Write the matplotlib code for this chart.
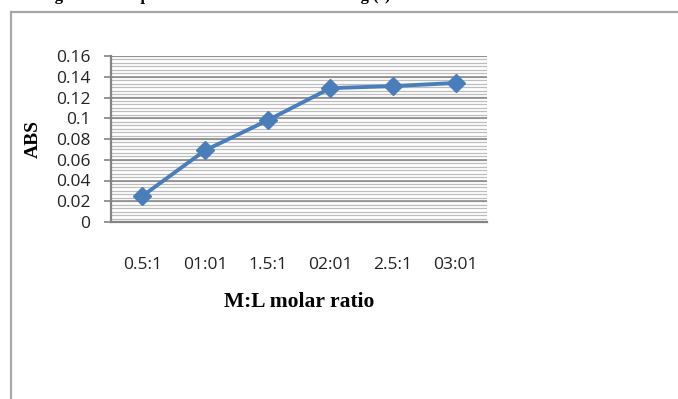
import numpy as np
import matplotlib
matplotlib.use('Agg')
import matplotlib.pyplot as plt
from matplotlib.lines import Line2D

# data
ratios = ['0.5:1', '01:01', '1.5:1', '02:01', '2.5:1', '03:01']
absorbance = [0.025, 0.069, 0.098, 0.129, 0.131, 0.134]
y_ticks = [0, 0.02, 0.04, 0.06, 0.08, 0.1, 0.12, 0.14, 0.16]
y_tick_labels = ['0', '0.02', '0.04', '0.06', '0.08', '0.1', '0.12', '0.14', '0.16']

fig = plt.figure(figsize=(6.78, 3.99), dpi=100)
W, H = 678, 399

# outer frame (only top and left edges are visible)
fig.add_artist(Line2D([10.5 / W, 10.5 / W], [0, 1 - 11.5 / H], transform=fig.transFigure,
                      color='#a6a6a6', lw=1.6))
fig.add_artist(Line2D([10.5 / W, 1], [1 - 11.5 / H, 1 - 11.5 / H], transform=fig.transFigure,
                      color='#a6a6a6', lw=1.6))

# caption cut off at the top of the picture
fig.text(40 / W, 1 - 0.5 / H, 'Figure 2: The plot of molar ratio method of Ag (I)',
         fontsize=12, fontweight='bold', family='Liberation Serif', va='baseline', ha='left')

ax = fig.add_axes([111 / W, 1 - 222 / H, 376 / W, 166 / H])
x = np.arange(len(ratios))

# hatched background: minor and major horizontal lines
minor = np.arange(0, 0.16 + 1e-9, 0.02 / 6)
for v in minor:
    ax.axhline(v, color='#bdbdbd', lw=0.9, zorder=0)
for v in y_ticks:
    ax.axhline(v, color='#848484', lw=1.1, zorder=1)

ax.plot(x, absorbance, color='#4a7ebb', lw=2.8, marker='D', markersize=9,
        markerfacecolor='#4a7ebb', markeredgecolor='#4a7ebb', zorder=3)

ax.set_xlim(-0.5, len(ratios) - 0.5)
ax.set_ylim(0, 0.16)
ax.set_yticks(y_ticks)
ax.set_yticklabels(y_tick_labels)
ax.set_xticks(x)
ax.set_xticklabels(ratios)

for s in ['top', 'right']:
    ax.spines[s].set_visible(False)
for s in ['left', 'bottom']:
    ax.spines[s].set_color('#848484')
    ax.spines[s].set_linewidth(1.6)

ax.tick_params(axis='y', length=5, width=1.2, color='#848484', pad=10, labelsize=12.5)
ax.tick_params(axis='x', length=0, pad=25, labelsize=12.5)
for lab in ax.get_xticklabels() + ax.get_yticklabels():
    lab.set_family('Open Sans')
    lab.set_color('#222222')

ax.set_ylabel('ABS', fontsize=14, fontweight='bold', family='Liberation Serif', labelpad=10)
ax.set_xlabel('M:L molar ratio', fontsize=15.5, fontweight='bold', family='Liberation Serif',
              labelpad=14)

fig.savefig('out.png', dpi=100)
